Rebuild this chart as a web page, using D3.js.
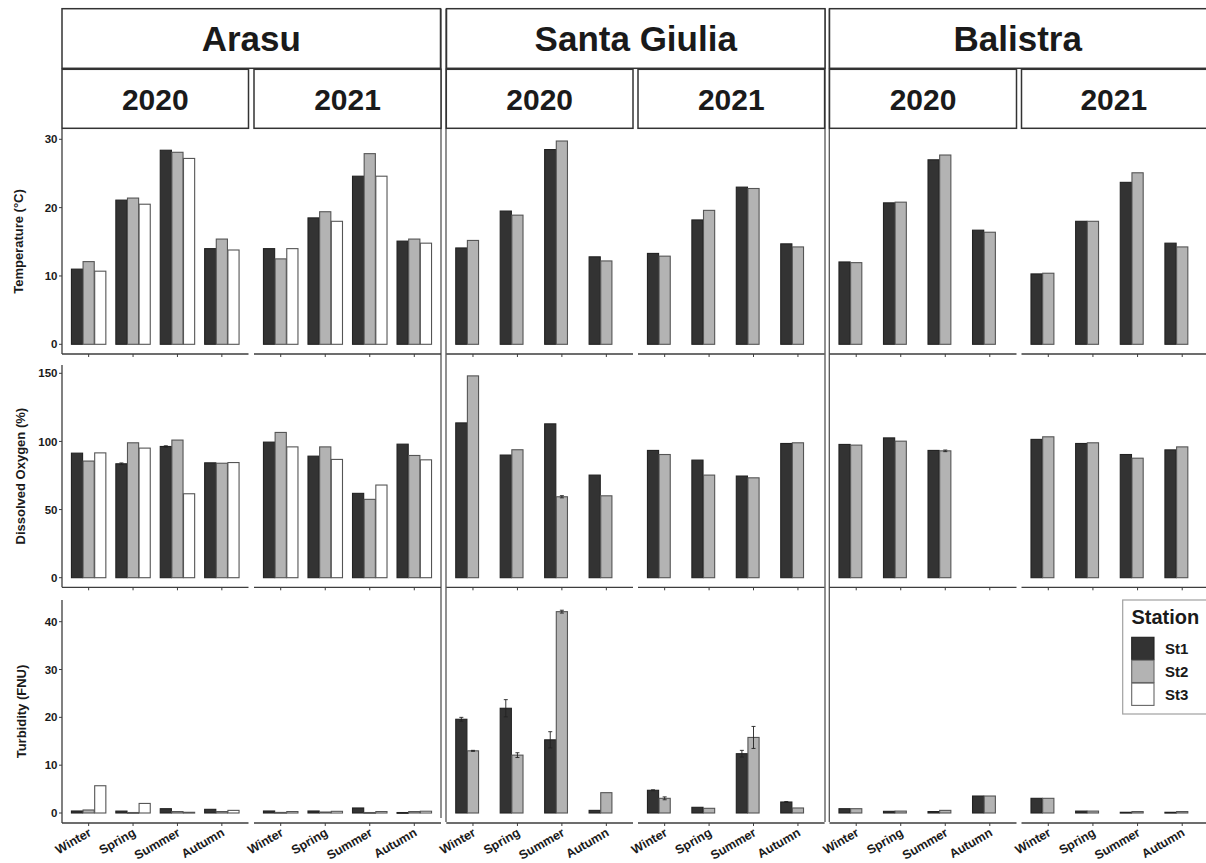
<!DOCTYPE html>
<html><head><meta charset="utf-8">
<script src="https://cdn.jsdelivr.net/npm/d3@7"></script>
<style>
body{margin:0;background:#fff}
svg{display:block}
text{font-family:"Liberation Sans",Arial,Helvetica,sans-serif;font-weight:bold;fill:#1a1a1a}
</style>
</head><body>
<svg id="chart" width="1206" height="863"></svg>
<script>
// ---------- data ----------
const sites = ["Arasu", "Santa Giulia", "Balistra"];
const years = ["2020", "2021"];
const seasons = ["Winter", "Spring", "Summer", "Autumn"];
const stations = ["St1", "St2", "St3"];
const variableTitles = ["Temperature (°C)", "Dissolved Oxygen (%)", "Turbidity (FNU)"];
const tempTicks = [0, 10, 20, 30];
const oxyTicks = [0, 50, 100, 150];
const turbTicks = [0, 10, 20, 30, 40];

// each array: 2020 Winter, Spring, Summer, Autumn, then 2021 Winter, Spring, Summer, Autumn
const tempArasuSt1 = [11.0, 21.1, 28.4, 14.0, 14.0, 18.5, 24.6, 15.1];
const tempArasuSt2 = [12.1, 21.4, 28.1, 15.4, 12.5, 19.4, 27.9, 15.4];
const tempArasuSt3 = [10.7, 20.5, 27.2, 13.8, 14.0, 18.0, 24.6, 14.8];
const tempGiuliaSt1 = [14.1, 19.5, 28.5, 12.8, 13.3, 18.2, 23.0, 14.7];
const tempGiuliaSt2 = [15.2, 18.9, 29.75, 12.2, 12.9, 19.6, 22.8, 14.25];
const tempBalistraSt1 = [12.05, 20.7, 27.0, 16.7, 10.3, 18.0, 23.7, 14.8];
const tempBalistraSt2 = [11.95, 20.8, 27.7, 16.4, 10.4, 18.0, 25.1, 14.25];

const oxyArasuSt1 = [91.4, 83.6, 96.3, 84.3, 99.5, 89.2, 61.9, 98.0];
const oxyArasuSt2 = [85.6, 99.0, 101.0, 84.0, 106.6, 96.0, 57.5, 89.7];
const oxyArasuSt3 = [91.6, 95.1, 61.6, 84.5, 96.0, 86.8, 68.0, 86.5];
const oxyGiuliaSt1 = [113.6, 90.0, 112.9, 75.3, 93.4, 86.3, 74.6, 98.5];
const oxyGiuliaSt2 = [148.1, 93.9, 59.4, 60.1, 90.4, 75.3, 73.3, 99.0];
const oxyBalistraSt1 = [97.8, 102.6, 93.4, null, 101.5, 98.5, 90.4, 93.8];
const oxyBalistraSt2 = [97.3, 100.2, 93.1, null, 103.4, 99.0, 87.7, 96.0];

const turbArasuSt1 = [0.42, 0.40, 0.90, 0.77, 0.42, 0.42, 1.05, 0.10];
const turbArasuSt2 = [0.63, 0.10, 0.30, 0.30, 0.12, 0.20, 0.10, 0.30];
const turbArasuSt3 = [5.7, 2.0, 0.15, 0.55, 0.30, 0.35, 0.30, 0.37];
const turbGiuliaSt1 = [19.6, 21.9, 15.3, 0.55, 4.75, 1.19, 12.4, 2.3];
const turbGiuliaSt2 = [13.0, 12.1, 42.1, 4.25, 3.07, 0.98, 15.8, 1.05];
const turbBalistraSt1 = [0.9, 0.35, 0.3, 3.55, 3.07, 0.4, 0.15, 0.15];
const turbBalistraSt2 = [0.9, 0.4, 0.55, 3.55, 3.07, 0.4, 0.3, 0.3];

// standard errors (0 = not visible)
const oxyArasuSt1Err = [0, 0.6, 0.5, 0, 0, 0, 0, 0];
const oxyGiuliaSt2Err = [0, 0, 0.8, 0, 0, 0, 0, 0];
const oxyBalistraSt2Err = [0, 0, 0.6, null, 0, 0, 0, 0];
const turbGiuliaSt1Err = [0.4, 1.8, 1.7, 0, 0.1, 0, 0.7, 0.1];
const turbGiuliaSt2Err = [0.1, 0.5, 0.3, 0, 0.3, 0, 2.3, 0];

// ---------- assemble ----------
const zeros = [0,0,0,0,0,0,0,0];
const siteData = [
  { // Arasu
    temp: [tempArasuSt1, tempArasuSt2, tempArasuSt3],
    oxy: [oxyArasuSt1, oxyArasuSt2, oxyArasuSt3],
    turb: [turbArasuSt1, turbArasuSt2, turbArasuSt3],
    oxyErr: [oxyArasuSt1Err, zeros, zeros],
    turbErr: [zeros, zeros, zeros]
  },
  { // Santa Giulia
    temp: [tempGiuliaSt1, tempGiuliaSt2],
    oxy: [oxyGiuliaSt1, oxyGiuliaSt2],
    turb: [turbGiuliaSt1, turbGiuliaSt2],
    oxyErr: [zeros, oxyGiuliaSt2Err],
    turbErr: [turbGiuliaSt1Err, turbGiuliaSt2Err]
  },
  { // Balistra
    temp: [tempBalistraSt1, tempBalistraSt2],
    oxy: [oxyBalistraSt1, oxyBalistraSt2],
    turb: [turbBalistraSt1, turbBalistraSt2],
    oxyErr: [zeros, oxyBalistraSt2Err],
    turbErr: [zeros, zeros]
  }
];

// ---------- layout ----------
const svg = d3.select("#chart");
svg.append("rect").attr("width", 1206).attr("height", 863).attr("fill", "#fff");

const stationFill = d3.scaleOrdinal().domain(stations).range(["#333333", "#b3b3b3", "#ffffff"]);
const siteHeaderX = [[62, 440.5], [446.5, 825], [829.5, 1212]];
const panelX = [
  [[62, 248.5], [254, 441]],
  [[446.3, 633], [638, 824.6]],
  [[829.5, 1016.5], [1021.5, 1209]]
];
const headerY = [8.7, 68.3];
const yearY = [69.3, 128.3];

const rows = [
  { key: "temp", err: null, top: 129, bottom: 354, y: d3.scaleLinear().domain([0, 30]).range([344.3, 139.3]), ticks: tempTicks, titleX: 22.5 },
  { key: "oxy", err: "oxyErr", top: 365, bottom: 587.3, y: d3.scaleLinear().domain([0, 150]).range([577.7, 373.3]), ticks: oxyTicks, titleX: 24.5 },
  { key: "turb", err: "turbErr", top: 600, bottom: 823, y: d3.scaleLinear().domain([0, 40]).range([813, 621.7]), ticks: turbTicks, titleX: 25.5 }
];

const lineCol = "#3d3d3d";

// site borders
const borders = [[441, 8.7, 818], [446, 8.7, 822], [825, 8.7, 822], [829.3, 8.7, 822]];
borders.forEach(b => {
  svg.append("line").attr("x1", b[0]).attr("x2", b[0]).attr("y1", b[1]).attr("y2", b[2])
    .attr("stroke", "#555").attr("stroke-width", 1.3);
});

sites.forEach((site, si) => {
  const hx = siteHeaderX[si];
  svg.append("rect").attr("x", hx[0]).attr("y", headerY[0]).attr("width", hx[1] - hx[0]).attr("height", headerY[1] - headerY[0])
    .attr("fill", "#fff").attr("stroke", "#333").attr("stroke-width", 1.5);
  svg.append("text").attr("x", (hx[0] + Math.min(hx[1], 1206)) / 2).attr("y", 51)
    .attr("text-anchor", "middle").style("font-size", "35px").text(site);

  years.forEach((yr, yi) => {
    const px = panelX[si][yi];
    svg.append("rect").attr("x", px[0]).attr("y", yearY[0]).attr("width", px[1] - px[0]).attr("height", yearY[1] - yearY[0])
      .attr("fill", "#fff").attr("stroke", "#333").attr("stroke-width", 1.5);
    svg.append("text").attr("x", (px[0] + Math.min(px[1], 1206)) / 2).attr("y", 110)
      .attr("text-anchor", "middle").style("font-size", "30px").text(yr);

    const u = (px[1] - px[0]) / 4.2;
    const x = d3.scalePoint().domain(seasons).range([px[0] + 0.6 * u, px[1] - 0.6 * u]);
    const dodge = d3.scaleBand().domain(stations).range([-0.3875 * u, 0.3875 * u]).paddingInner(0.04);

    rows.forEach((row, ri) => {
      const g = svg.append("g");
      g.append("line").attr("x1", px[0]).attr("x2", px[1]).attr("y1", row.bottom).attr("y2", row.bottom)
        .attr("stroke", lineCol).attr("stroke-width", 1.3);
      seasons.forEach(s => {
        g.append("line").attr("x1", x(s)).attr("x2", x(s)).attr("y1", row.bottom).attr("y2", row.bottom + 3)
          .attr("stroke", lineCol).attr("stroke-width", 1);
      });
      const series = siteData[si][row.key];
      const errs = row.err ? siteData[si][row.err] : null;
      series.forEach((arr, k) => {
        const st = stations[k];
        seasons.forEach((s, qi) => {
          const v = arr[yi * 4 + qi];
          if (v === null || v === undefined) return;
          const bx = x(s) + dodge(st);
          const bw = dodge.bandwidth();
          const y0 = row.y(0), y1 = row.y(v);
          g.append("rect").attr("x", bx).attr("y", y1).attr("width", bw).attr("height", Math.max(0.8, y0 - y1))
            .attr("fill", stationFill(st)).attr("stroke", k === 0 ? "#222" : "#555").attr("stroke-width", 1.1);
          if (errs) {
            const e = errs[k][yi * 4 + qi];
            if (e) {
              const cx = bx + bw / 2;
              const ya = row.y(v + e), yb = row.y(v - e);
              g.append("line").attr("x1", cx).attr("x2", cx).attr("y1", ya).attr("y2", yb).attr("stroke", "#222").attr("stroke-width", 0.9);
              [ya, yb].forEach(yy => g.append("line").attr("x1", cx - 2).attr("x2", cx + 2).attr("y1", yy).attr("y2", yy).attr("stroke", "#222").attr("stroke-width", 0.9));
            }
          }
        });
      });
      if (si === 0 && yi === 0) {
        g.append("line").attr("x1", px[0]).attr("x2", px[0]).attr("y1", row.top).attr("y2", row.bottom)
          .attr("stroke", lineCol).attr("stroke-width", 1.3);
        row.ticks.forEach(t => {
          g.append("line").attr("x1", px[0] - 3).attr("x2", px[0]).attr("y1", row.y(t)).attr("y2", row.y(t))
            .attr("stroke", lineCol).attr("stroke-width", 1);
          g.append("text").attr("x", px[0] - 4.5).attr("y", row.y(t)).attr("dy", "0.36em")
            .attr("text-anchor", "end").style("font-size", "11.5px").text(t);
        });
        g.append("text").attr("transform", `translate(${row.titleX},${(row.top + row.bottom) / 2}) rotate(-90)`)
          .attr("text-anchor", "middle").style("font-size", "13px").text(variableTitles[ri]);
      }
      if (ri === 2) {
        seasons.forEach(s => {
          g.append("text").attr("transform", `translate(${x(s) + 3.5},${row.bottom + 12}) rotate(-30)`)
            .attr("text-anchor", "end").style("font-size", "12.5px").text(s);
        });
      }
    });
  });
});

// legend
const lg = svg.append("g");
lg.append("rect").attr("x", 1122.7).attr("y", 600).attr("width", 95).attr("height", 114)
  .attr("fill", "#fff").attr("stroke", "#a0a0a0").attr("stroke-width", 1.2);
lg.append("text").attr("x", 1131.5).attr("y", 624.3).style("font-size", "20px").text("Station");
stations.forEach((st, i) => {
  const ky = 637.3 + i * 22.9;
  lg.append("rect").attr("x", 1131.7).attr("y", ky).attr("width", 22.3).attr("height", 22.3)
    .attr("fill", stationFill(st)).attr("stroke", i === 0 ? "#222" : "#666").attr("stroke-width", 1.1);
  lg.append("text").attr("x", 1165).attr("y", ky + 17).style("font-size", "15px").text(st);
});
</script>
</body></html>
